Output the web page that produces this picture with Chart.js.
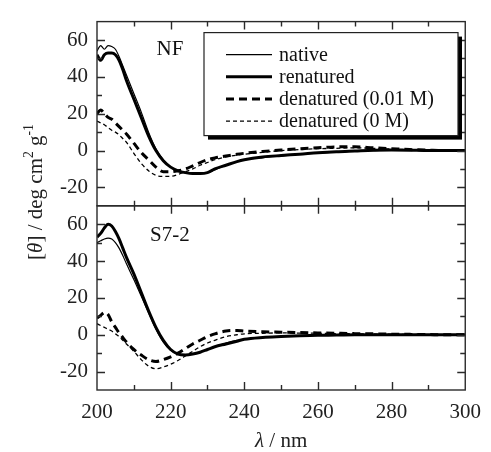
<!DOCTYPE html>
<html>
<head>
<meta charset="utf-8">
<title>CD spectra</title>
<script src="https://cdn.jsdelivr.net/npm/chart.js@4.4.1/dist/chart.umd.min.js"></script>
<style>
  html, body { margin: 0; padding: 0; background: #fff; }
</style>
</head>
<body>
<canvas id="cdChart" width="491" height="452"></canvas>
<script>
// wavelength (nm)
var wavelength = [200, 201, 202, 203, 204, 205, 206, 207, 208, 210, 212, 214, 216, 218, 220, 222, 224, 226,
                  228, 230, 232, 235, 238, 240, 245, 250, 255, 260, 265, 270, 275, 280, 285, 290, 295, 300];

// NF panel
var nfNative     = [54, 57, 55, 57, 56.5, 55, 51, 46, 41, 31, 21, 10, 1, -5, -9, -11, -12, -12.5,
                    -12.5, -12, -10.5, -8, -6, -5, -3.8, -3, -2, -1.3, -0.8, -0.3, 0, 0.3, 0.2, 0, 0, 0];
var nfRenatured  = [52, 49, 52, 53, 53, 52, 49, 44, 38, 28, 18, 8, 0, -5.5, -9, -11, -12, -12.5,
                    -12.5, -12, -10, -8, -6, -5, -3.5, -2.7, -2, -1.2, -0.6, -0.2, 0.2, 0.3, 0.2, 0, 0, 0];
var nfDenat001   = [20, 22, 20, 18, 17, 15, 13, 11, 9, 4, -1, -5, -9, -11.5, -11.5, -11, -10, -8.3,
                    -6.5, -5, -4, -3, -2, -1.5, -0.5, 0.3, 1, 1.5, 2, 2, 1.5, 1, 0.5, 0.2, 0, 0];
var nfDenat0     = [16, 15, 14, 12.5, 11, 10, 8.5, 6.5, 4.5, -1.5, -7, -11, -13.5, -14, -14, -13, -11.5, -10,
                    -8, -6.5, -5, -3.5, -2.5, -2, -1, 0, 0.5, 1, 1.2, 1.5, 1.2, 0.8, 0.5, 0.2, 0, 0];

// S7-2 panel
var s7Native     = [50, 51, 52, 52.5, 52, 50, 47, 43, 38.5, 30, 21, 12, 3, -4, -8.5, -10.5, -11, -10.5,
                    -9.5, -8, -6.5, -4.5, -3, -2.5, -1.5, -1, -0.5, -0.3, -0.2, 0, 0, 0, 0, 0, 0, 0];
var s7Renatured  = [53, 55, 58, 60, 59, 56, 52, 47, 42, 33, 23, 13, 4, -3, -8, -10.5, -11, -10.5,
                    -9.5, -8, -6.5, -5, -3.5, -2.5, -1.5, -1, -0.6, -0.3, -0.2, 0, 0, 0, 0, 0, 0, 0];
var s7Denat001   = [9, 10.5, 12, 11, 7, 4, 1, -1.5, -4, -8, -11, -13.5, -14.5, -13.5, -12, -10, -7.5, -5,
                    -3, -1, 0.5, 2, 2.3, 2, 1.6, 1.4, 1.2, 1, 0.8, 0.6, 0.5, 0.3, 0.2, 0.1, 0, 0];
var s7Denat0     = [6, 5, 4, 3, 2, 0.5, -1, -3, -5, -9, -13.5, -17, -18.5, -17.5, -16, -14, -11.5, -9,
                    -6.5, -4.5, -3, -1, 0, 0.5, 0.8, 1, 0.9, 0.8, 0.6, 0.5, 0.4, 0.3, 0.2, 0.1, 0, 0];

var seriesNames = ['native', 'renatured', 'denatured (0.01 M)', 'denatured (0 M)'];
var panelNames = ['NF', 'S7-2'];
var xTickLabels = [200, 220, 240, 260, 280, 300];
var yTickLabels = [-20, 0, 20, 40, 60];

var serif = "'Liberation Serif', 'Times New Roman', serif";
var lineStyles = [
  { width: 1.2, dash: [] },
  { width: 3, dash: [] },
  { width: 3, dash: [8, 5] },
  { width: 1.3, dash: [4, 3] }
];

function makeSet(k, values, axis) {
  return {
    label: seriesNames[k],
    data: wavelength.map(function (x, i) { return { x: x, y: values[i] }; }),
    yAxisID: axis,
    borderColor: '#000',
    borderWidth: lineStyles[k].width,
    borderDash: lineStyles[k].dash,
    pointRadius: 0,
    fill: false,
    cubicInterpolationMode: 'monotone'
  };
}

var datasets = [
  makeSet(0, nfNative, 'yTop'),
  makeSet(1, nfRenatured, 'yTop'),
  makeSet(2, nfDenat001, 'yTop'),
  makeSet(3, nfDenat0, 'yTop'),
  makeSet(0, s7Native, 'yBot'),
  makeSet(1, s7Renatured, 'yBot'),
  makeSet(2, s7Denat001, 'yBot'),
  makeSet(3, s7Denat0, 'yBot')
];

// draws text made of pieces (italic / superscript)
function richWidth(ctx, parts, size) {
  var w = 0;
  parts.forEach(function (p) {
    ctx.font = (p.it ? 'italic ' : '') + (p.sup ? size * 0.65 : size) + 'px ' + serif;
    w += ctx.measureText(p.t).width;
  });
  return w;
}
function drawRich(ctx, parts, size, x, y) {
  var cx = x;
  parts.forEach(function (p) {
    ctx.font = (p.it ? 'italic ' : '') + (p.sup ? size * 0.65 : size) + 'px ' + serif;
    ctx.fillText(p.t, cx, p.sup ? y - size * 0.45 : y);
    cx += ctx.measureText(p.t).width;
  });
}

var framePlugin = {
  id: 'frame',
  afterDatasetsDraw: function (chart) {
    var ctx = chart.ctx;
    var area = chart.chartArea;
    var xs = chart.scales.x;
    var panels = [chart.scales.yTop, chart.scales.yBot];
    ctx.save();
    ctx.strokeStyle = '#2a2a2a';
    ctx.lineWidth = 1.4;
    panels.forEach(function (ys, p) {
      ctx.strokeRect(area.left, ys.top, area.right - area.left, ys.bottom - ys.top);
      ctx.beginPath();
      for (var v = 210; v < 300; v += 10) {
        var px = Math.round(xs.getPixelForValue(v)) + 0.5;
        var len = v % 20 === 0 ? 8 : 5;
        ctx.moveTo(px, ys.top); ctx.lineTo(px, ys.top + len);
        ctx.moveTo(px, ys.bottom); ctx.lineTo(px, ys.bottom - len);
      }
      for (var w = -20; w <= 60; w += 10) {
        var py = Math.round(ys.getPixelForValue(w)) + 0.5;
        var l2 = w % 20 === 0 ? 8 : 5;
        ctx.moveTo(area.left, py); ctx.lineTo(area.left + l2, py);
        ctx.moveTo(area.right, py); ctx.lineTo(area.right - l2, py);
      }
      ctx.stroke();

      // panel name
      ctx.fillStyle = '#111';
      ctx.font = '21px ' + serif;
      ctx.textAlign = 'center';
      ctx.textBaseline = 'middle';
      ctx.fillText(panelNames[p], xs.getPixelForValue(219.8), ys.getPixelForValue(p === 0 ? 55 : 54));
    });

    // legend (top panel)
    var bx = area.left + 107, by = area.top + 11, bw = 254, bh = 103;
    ctx.fillStyle = '#000';
    ctx.fillRect(bx + 4, by + 4, bw, bh);
    ctx.fillStyle = '#fff';
    ctx.fillRect(bx, by, bw, bh);
    ctx.strokeStyle = '#222';
    ctx.lineWidth = 1.2;
    ctx.strokeRect(bx, by, bw, bh);
    ctx.textAlign = 'left';
    ctx.textBaseline = 'middle';
    ctx.font = '20px ' + serif;
    for (var k = 0; k < 4; k++) {
      var ds = chart.data.datasets[k];
      var ry = by + 22 + k * 22.2;
      ctx.beginPath();
      ctx.strokeStyle = '#000';
      ctx.lineWidth = ds.borderWidth;
      ctx.setLineDash(ds.borderDash);
      ctx.moveTo(bx + 22, ry); ctx.lineTo(bx + 68, ry);
      ctx.stroke();
      ctx.setLineDash([]);
      ctx.fillStyle = '#111';
      ctx.fillText(ds.label, bx + 75, ry + 1);
    }

    // axis titles
    ctx.fillStyle = '#222';
    ctx.textBaseline = 'alphabetic';
    var xt = [{ t: '\u03bb', it: true }, { t: ' / nm' }];
    ctx.textAlign = 'left';
    var xw = richWidth(ctx, xt, 21);
    drawRich(ctx, xt, 21, (area.left + area.right) / 2 - xw / 2, 447);

    var yt = [{ t: '[' }, { t: '\u03b8', it: true }, { t: '] / deg cm' }, { t: '2', sup: true },
              { t: ' g' }, { t: '-1', sup: true }];
    var yw = richWidth(ctx, yt, 21);
    ctx.translate(42, 192);
    ctx.rotate(-Math.PI / 2);
    drawRich(ctx, yt, 21, -yw / 2, 0);
    ctx.restore();
  }
};

function yScale() {
  return {
    type: 'linear',
    position: 'left',
    stack: 'panels',
    stackWeight: 1,
    min: -30,
    max: 70,
    grid: { display: false, drawTicks: false },
    border: { display: false },
    afterBuildTicks: function (s) {
      s.ticks = yTickLabels.map(function (v) { return { value: v }; });
    },
    afterFit: function (s) { s.width = 97; },
    ticks: {
      autoSkip: false,
      padding: 9,
      color: '#222',
      font: { family: serif, size: 21 }
    }
  };
}

var ctx = document.getElementById('cdChart').getContext('2d');
var cdChart = new Chart(ctx, {
  type: 'line',
  data: { datasets: datasets },
  options: {
    responsive: false,
    animation: false,
    devicePixelRatio: 1,
    layout: { padding: { left: 0, right: 18, top: 14, bottom: 0 } },
    plugins: { legend: { display: false }, tooltip: { enabled: false } },
    scales: {
      x: {
        type: 'linear',
        min: 200,
        max: 300,
        grid: { display: false, drawTicks: false },
        border: { display: false },
        afterBuildTicks: function (s) {
          s.ticks = xTickLabels.map(function (v) { return { value: v }; });
        },
        afterFit: function (s) { s.height = 62; },
        ticks: {
          autoSkip: false,
          padding: 10,
          maxRotation: 0,
          color: '#222',
          font: { family: serif, size: 21 }
        }
      },
      // defined bottom first so the top panel is stacked above it
      yBot: yScale(),
      yTop: yScale()
    }
  },
  plugins: [framePlugin]
});
</script>
</body>
</html>
